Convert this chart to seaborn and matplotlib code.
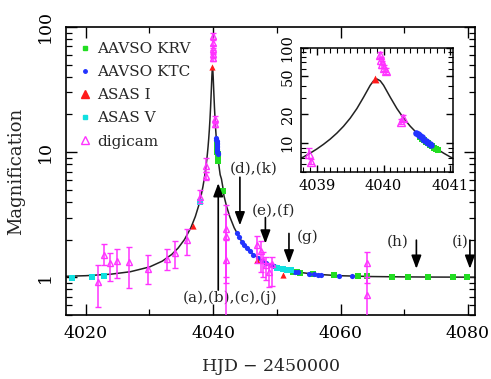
import matplotlib
matplotlib.use("Agg")
import matplotlib.pyplot as plt
from matplotlib.lines import Line2D
from matplotlib.ticker import FixedLocator, MultipleLocator, NullFormatter
import pandas as pd
import seaborn as sns

# model light curve
model_t = [4016.9, 4020.0, 4024.0, 4027.0, 4030.0, 4032.0, 4033.5, 4034.5, 4035.5,
           4036.5, 4037.2, 4037.7, 4038.1, 4038.4, 4038.6, 4038.7, 4038.8, 4038.9,
           4039.0, 4039.1, 4039.2, 4039.3, 4039.4, 4039.5, 4039.6, 4039.7, 4039.8,
           4039.85, 4039.9, 4039.95, 4040.0, 4040.1, 4040.2, 4040.3, 4040.4, 4040.5,
           4040.6, 4040.7, 4040.8, 4040.9, 4041.0, 4041.1, 4041.3, 4041.5, 4041.7,
           4042.1, 4042.6, 4043.3, 4044.3, 4045.3, 4046.3, 4047.8, 4049.8, 4052.8,
           4055.8, 4059.8, 4064.9, 4069.9, 4074.9, 4081.1]
model_a = [1.019, 1.030, 1.060, 1.108, 1.209, 1.345, 1.523, 1.712, 2.003,
           2.488, 3.057, 3.698, 4.47, 5.32, 6.11, 6.60, 7.18, 7.87,
           8.70, 9.74, 11.04, 12.75, 15.05, 18.29, 23.04, 30.3, 40.4,
           45.0, 47.0, 45.0, 40.4, 30.3, 23.04, 18.29, 15.05, 12.75,
           11.04, 9.74, 8.70, 7.87, 7.18, 6.60, 6.11, 5.32, 4.47,
           3.698, 3.057, 2.488, 2.003, 1.712, 1.523, 1.345, 1.209, 1.108,
           1.060, 1.030, 1.014, 1.0076, 1.0043, 1.0023]

# AAVSO KRV
krv_t = [4040.54, 4040.57, 4040.60, 4040.63, 4040.66, 4040.69, 4040.72, 4040.75,
         4040.78, 4040.81, 4041.5, 4052.6, 4053.2, 4053.6, 4055.7, 4058.9, 4062.8,
         4064.1, 4068.0, 4070.6, 4073.8, 4077.7, 4079.9]
krv_a = [11.6, 11.1, 10.7, 10.3, 9.95, 9.6, 9.3, 9.0,
         8.7, 8.45, 4.9, 1.11, 1.10, 1.09, 1.06, 1.035, 1.02,
         1.016, 1.009, 1.006, 1.004, 1.003, 1.002]

# AAVSO KTC
ktc_t = [4040.49, 4040.51, 4040.53, 4040.55, 4040.57, 4040.59, 4040.61, 4040.63,
         4040.65, 4040.67, 4040.69, 4040.71, 4043.7, 4044.1, 4044.5, 4044.9, 4045.3,
         4045.8, 4046.3, 4047.1, 4047.6, 4048.3, 4048.9, 4049.5, 4050.0, 4052.8,
         4053.3, 4055.1, 4055.8, 4056.5, 4057.0, 4059.7, 4061.8]
ktc_a = [12.9, 12.6, 12.2, 11.9, 11.55, 11.2, 10.9, 10.6,
         10.35, 10.1, 9.85, 9.6, 2.26, 2.08, 1.93, 1.81, 1.71,
         1.61, 1.52, 1.42, 1.36, 1.30, 1.26, 1.22, 1.20, 1.11,
         1.10, 1.07, 1.06, 1.05, 1.05, 1.03, 1.02]

# ASAS I
asi_t = [4036.9, 4039.87, 4046.9, 4051.0]
asi_a = [2.56, 47.5, 1.37, 1.04]

# ASAS V
asv_t = [4017.8, 4021.0, 4022.8, 4038.0, 4050.0, 4051.0, 4051.6, 4052.2]
asv_a = [0.99, 1.00, 1.03, 4.0, 1.19, 1.16, 1.15, 1.14]

# digicam with error bar ends
dig_t = [4021.9, 4022.8, 4023.8, 4024.9, 4026.8, 4029.8, 4032.8, 4034.0, 4035.9,
         4038.0, 4038.88, 4038.92, 4039.95, 4039.96, 4039.97, 4040.0, 4040.03,
         4040.26, 4040.29, 4042.0, 4042.0, 4042.0, 4046.9, 4047.5, 4047.9, 4048.3,
         4048.8, 4049.3, 4064.1, 4064.1]
dig_a = [0.92, 1.52, 1.29, 1.34, 1.33, 1.17, 1.41, 1.55, 1.98,
         4.4, 7.8, 6.4, 84, 74, 67, 61, 57,
         16.8, 18.3, 2.45, 2.15, 1.37, 1.80, 1.62, 1.38, 1.25,
         1.10, 1.28, 1.29, 0.72]
dig_lo = [0.58, 1.25, 0.93, 0.99, 0.82, 0.89, 1.14, 1.19, 1.50,
          3.9, 7.0, 6.0, 78, 68, 62, 57, 53,
          15.8, 17.0, 1.0, 0.9, 0.3, 1.30, 1.10, 1.00, 0.95,
          0.84, 0.85, 0.90, 0.3]
dig_hi = [1.25, 1.86, 1.55, 1.67, 1.75, 1.52, 1.67, 1.94, 2.41,
          5.0, 8.9, 6.9, 90, 80, 72, 66, 61,
          17.8, 19.6, 3.8, 3.2, 2.0, 2.15, 1.95, 1.60, 1.45,
          1.30, 1.45, 1.59, 1.0]

# arrows marking epochs
arrow_t = [4040.8, 4044.2, 4048.2, 4051.9, 4071.9, 4080.3]
arrow_from = [0.79, 6.3, 3.0, 2.24, 1.98, 1.98]
arrow_to = [5.65, 2.6, 1.86, 1.29, 1.17, 1.17]
label_text = ["(a),(b),(c),(j)", "(d),(k)", "(e),(f)", "(g)", "(h)", "(i)"]
label_t = [4042.7, 4046.4, 4049.5, 4054.9, 4069.0, 4078.7]
label_a = [0.69, 7.4, 3.43, 2.10, 1.92, 1.92]

GREEN = "#22dd22"
BLUE = "#2233ff"
RED = "#ff1a1a"
CYAN = "#11e0e0"
MAGENTA = "#ff33ff"

sns.set_style("ticks")
plt.rcParams["font.family"] = ["DejaVu Serif"]
plt.rcParams["mathtext.fontset"] = "dejavuserif"

model = pd.DataFrame({"t": model_t, "a": model_a})


def draw_data(ax, ms_scale=1.0):
    sns.lineplot(data=model, x="t", y="a", color="#222222", lw=1.1, sort=False,
                 estimator=None, ax=ax, zorder=2)
    sns.scatterplot(x=krv_t, y=krv_a, marker="s", s=14 * ms_scale, color=GREEN,
                    edgecolor=GREEN, linewidth=0, ax=ax, zorder=3)
    sns.scatterplot(x=ktc_t, y=ktc_a, marker="o", s=14 * ms_scale, color=BLUE,
                    edgecolor=BLUE, linewidth=0, ax=ax, zorder=3)
    sns.scatterplot(x=asv_t, y=asv_a, marker="s", s=14 * ms_scale, color=CYAN,
                    edgecolor=CYAN, linewidth=0, ax=ax, zorder=3)
    sns.scatterplot(x=asi_t, y=asi_a, marker="^", s=20 * ms_scale, color=RED,
                    edgecolor=RED, linewidth=0, ax=ax, zorder=4)
    yerr = [[a - lo for a, lo in zip(dig_a, dig_lo)],
            [hi - a for a, hi in zip(dig_a, dig_hi)]]
    ax.errorbar(dig_t, dig_a, yerr=yerr, fmt="^", mfc="none", mec=MAGENTA,
                ecolor=MAGENTA, ms=5 * ms_scale ** 0.5, mew=1.0, capsize=2.2,
                elinewidth=1.1, zorder=5)


fig = plt.figure(figsize=(4.91, 3.79), dpi=100)
ax = fig.add_axes([0.1344, 0.1689, 0.833, 0.760])
ax.set_yscale("log")
draw_data(ax)

for t, a0, a1 in zip(arrow_t, arrow_from, arrow_to):
    ax.annotate("", xy=(t, a1), xytext=(t, a0),
                arrowprops=dict(arrowstyle="-|>,head_length=0.8,head_width=0.3",
                                color="black", lw=1.2, shrinkA=0, shrinkB=0),
                zorder=6)
for txt, t, a in zip(label_text, label_t, label_a):
    ax.text(t, a, txt, ha="center", va="center", fontsize=11)

ax.set_xlim(4016.9, 4081.1)
ax.set_ylim(0.5, 100)
ax.xaxis.set_major_locator(FixedLocator([4020, 4040, 4060, 4080]))
ax.xaxis.set_minor_locator(MultipleLocator(10))
ax.set_yticks([1, 10, 100])
ax.set_yticklabels(["1", "10", "100"], rotation=90, va="center")
ax.yaxis.set_minor_formatter(NullFormatter())
ax.tick_params(which="both", direction="in", top=True, right=True, colors="black")
ax.tick_params(which="major", length=8, width=1.0, labelsize=12.5)
ax.tick_params(which="minor", length=4.5, width=0.9)
ax.tick_params(axis="x", which="major", pad=7)
ax.tick_params(axis="y", which="major", pad=9)
for sp in ax.spines.values():
    sp.set_linewidth(1.2)
    sp.set_color("black")
ax.set_xlabel("HJD $-$ 2450000", fontsize=12.5, labelpad=10)
ax.set_ylabel("Magnification", fontsize=13, labelpad=8)

handles = [
    Line2D([], [], ls="none", marker="s", ms=2.8, color=GREEN, mec=GREEN),
    Line2D([], [], ls="none", marker="o", ms=2.5, color=BLUE, mec=BLUE),
    Line2D([], [], ls="none", marker="^", ms=6, color=RED, mec=RED),
    Line2D([], [], ls="none", marker="s", ms=2.8, color=CYAN, mec=CYAN),
    Line2D([], [], ls="none", marker="^", ms=6, mfc="none", mec=MAGENTA, mew=1.0),
]
ax.legend(handles, ["AAVSO KRV", "AAVSO KTC", "ASAS I", "ASAS V", "digicam"],
          loc="upper left", bbox_to_anchor=(0.013, 0.969), frameon=False,
          fontsize=11, handlelength=1.0, handletextpad=0.3, labelspacing=0.6,
          borderaxespad=0)

# inset around the peak
ins = fig.add_axes([0.614, 0.5462, 0.3086, 0.328])
ins.set_yscale("log")
draw_data(ins, ms_scale=1.6)
ins.set_xlim(4038.77, 4041.04)
ins.set_ylim(5, 100)
ins.xaxis.set_major_locator(FixedLocator([4039, 4040, 4041]))
ins.xaxis.set_minor_locator(MultipleLocator(0.1))
ins.set_yticks([10, 20, 50, 100])
ins.set_yticklabels(["10", "20", "50", "100"], rotation=90, va="center")
ins.yaxis.set_minor_formatter(NullFormatter())
ins.tick_params(which="both", direction="in", top=True, right=True, colors="black")
ins.tick_params(which="major", length=5, width=1.0, labelsize=10.5, pad=5)
ins.tick_params(which="minor", length=3.5, width=0.8)
for sp in ins.spines.values():
    sp.set_linewidth(1.1)
    sp.set_color("black")
ins.set_xlabel("")
ins.set_ylabel("")

fig.savefig("out.png", dpi=100)
